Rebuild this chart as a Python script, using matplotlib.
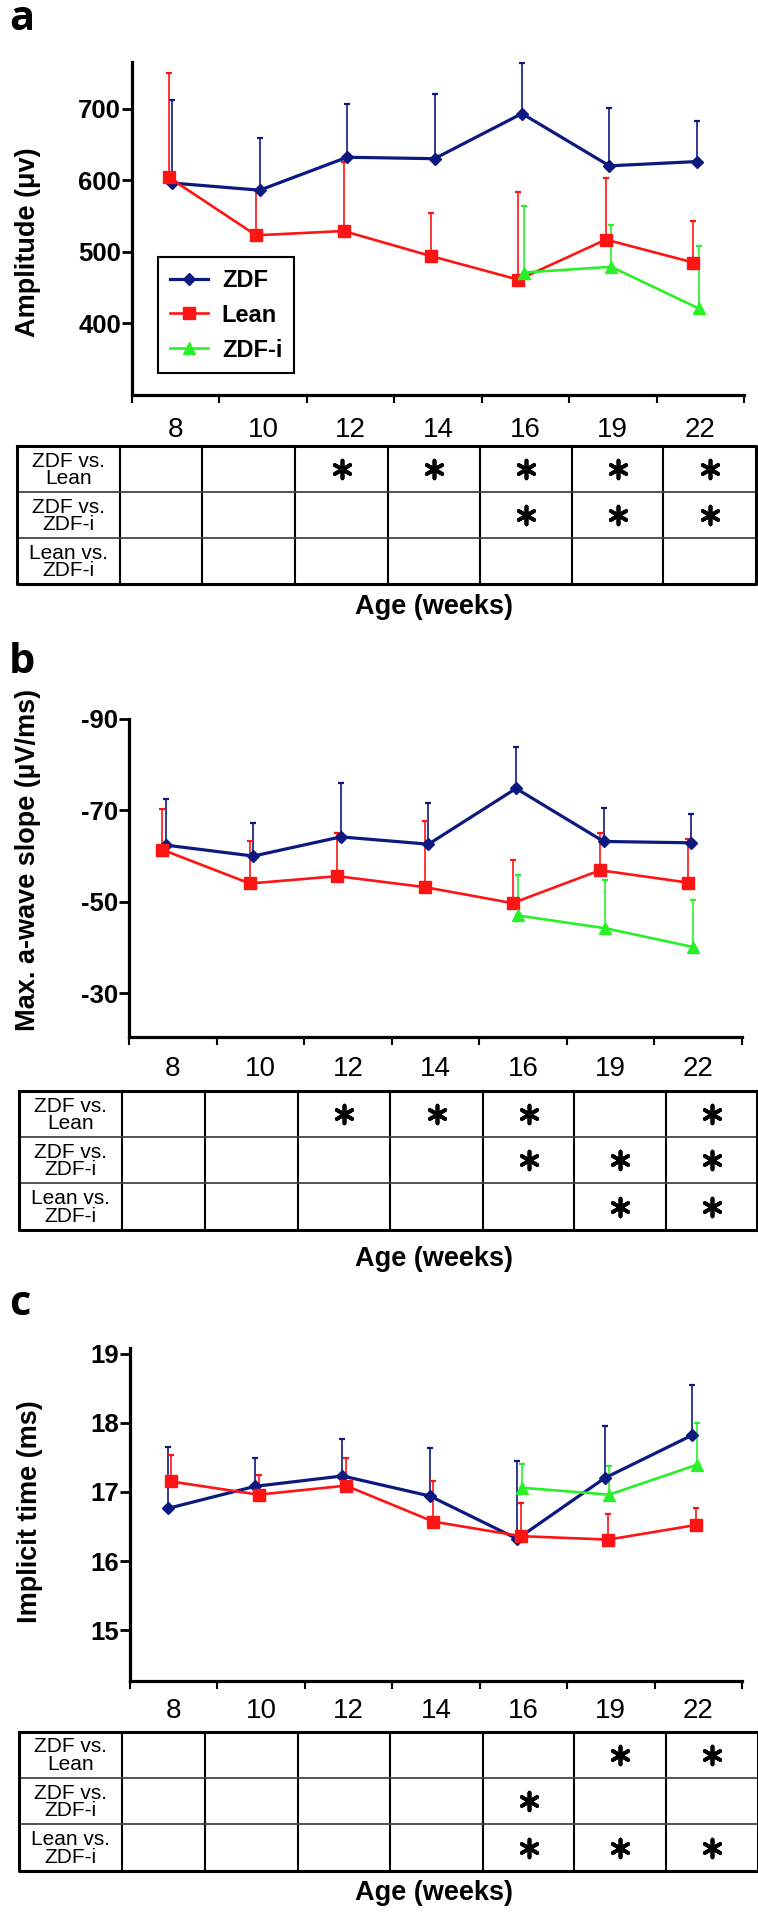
import matplotlib.pyplot as plt
import numpy as np

plt.rcParams['font.family'] = ['Liberation Sans', 'DejaVu Sans']
plt.rcParams['axes.unicode_minus'] = False

W, H = 758, 1917
nan = np.nan

weeks = ['8', '10', '12', '14', '16', '19', '22']
groups = ['ZDF', 'Lean', 'ZDF-i']
comparisons = ['ZDF vs.\nLean', 'ZDF vs.\nZDF-i', 'Lean vs.\nZDF-i']

# a - amplitude (uV): mean and SD
amp_zdf = [596, 586, 632, 630, 693, 620, 626]
amp_zdf_sd = [116, 73, 74, 90, 71, 81, 57]
amp_lean = [604, 523, 529, 494, 461, 517, 485]
amp_lean_sd = [146, 63, 96, 60, 122, 86, 58]
amp_zdfi = [nan, nan, nan, nan, 471, 479, 421]
amp_zdfi_sd = [nan, nan, nan, nan, 93, 59, 87]

# b - max a-wave slope (uV/ms)
slope_zdf = [-62.4, -60.0, -64.2, -62.6, -74.8, -63.2, -62.9]
slope_zdf_sd = [10.0, 7.2, 11.7, 9.0, 9.1, 7.3, 6.2]
slope_lean = [-61.4, -54.0, -55.6, -53.2, -49.7, -56.9, -54.2]
slope_lean_sd = [9.0, 9.2, 9.5, 14.5, 9.5, 8.2, 9.5]
slope_zdfi = [nan, nan, nan, nan, -47.0, -44.2, -40.1]
slope_zdfi_sd = [nan, nan, nan, nan, 8.9, 10.5, 10.3]

# c - implicit time (ms)
time_zdf = [16.76, 17.08, 17.23, 16.94, 16.32, 17.20, 17.82]
time_zdf_sd = [0.89, 0.41, 0.54, 0.69, 1.12, 0.75, 0.73]
time_lean = [17.15, 16.96, 17.09, 16.57, 16.36, 16.31, 16.52]
time_lean_sd = [0.38, 0.29, 0.40, 0.59, 0.48, 0.37, 0.25]
time_zdfi = [nan, nan, nan, nan, 17.06, 16.96, 17.39]
time_zdfi_sd = [nan, nan, nan, nan, 0.34, 0.42, 0.61]

# significance (rows = comparisons, cols = weeks)
sig_a = [[0, 0, 1, 1, 1, 1, 1],
         [0, 0, 0, 0, 1, 1, 1],
         [0, 0, 0, 0, 0, 0, 0]]
sig_b = [[0, 0, 1, 1, 1, 0, 1],
         [0, 0, 0, 0, 1, 1, 1],
         [0, 0, 0, 0, 0, 1, 1]]
sig_c = [[0, 0, 0, 0, 0, 1, 1],
         [0, 0, 0, 0, 1, 0, 0],
         [0, 0, 0, 0, 1, 1, 1]]

colors = {'ZDF': '#0c1a80', 'Lean': '#ff1414', 'ZDF-i': '#2af02a'}
markers = {'ZDF': ('D', 6.5), 'Lean': ('s', 9), 'ZDF-i': ('^', 9)}
lwidths = {'ZDF': 2.3, 'Lean': 1.9, 'ZDF-i': 1.9}

fig = plt.figure(figsize=(W / 100, H / 100), dpi=100)


def px_rect(l, t, r, b):
    return [l / W, 1 - b / H, (r - l) / W, (b - t) / H]


def draw_panel(box, series, ylim, yticks, ylabel, lab_xy, lab_size, offs, err_dir, tick_pad, legend=False):
    ax = fig.add_axes(px_rect(*box))
    x = np.arange(len(weeks))
    lines = []
    for name, (mean, sd) in zip(groups, series):
        mean = np.array(mean, dtype=float)
        sd = np.array(sd, dtype=float)
        xs = x + offs[name]
        zeros = np.zeros_like(sd)
        yerr = [zeros, sd] if err_dir > 0 else [sd, zeros]
        ax.errorbar(xs, mean, yerr=yerr, fmt='none', ecolor=colors[name],
                    elinewidth=1.2, capsize=2, capthick=1.6, zorder=2)
        m, ms = markers[name]
        ln, = ax.plot(xs, mean, color=colors[name], lw=lwidths[name], marker=m,
                      ms=ms, mec=colors[name], label=name, zorder=3)
        lines.append(ln)

    ax.set_xlim(-0.5, len(weeks) - 0.5)
    ax.set_ylim(*ylim)
    ax.set_yticks(yticks)
    ax.set_yticklabels([str(t) for t in yticks])
    ax.set_xticks(x)
    ax.set_xticklabels(weeks)
    ax.set_xticks(np.arange(len(weeks) + 1) - 0.5, minor=True)
    ax.tick_params(axis='x', which='major', length=0, pad=tick_pad, labelsize=20)
    ax.tick_params(axis='x', which='minor', length=6, width=1.5, direction='out')
    ax.tick_params(axis='y', length=7, width=2, pad=1, labelsize=18.5)
    for t in ax.get_yticklabels():
        t.set_fontweight('bold')
    for s in ['top', 'right']:
        ax.spines[s].set_visible(False)
    for s in ['left', 'bottom']:
        ax.spines[s].set_linewidth(2.3)
    ax.set_ylabel(ylabel, fontsize=lab_size, fontweight='bold')
    ax.yaxis.set_label_coords(*lab_xy)

    if legend:
        leg = ax.legend(handles=lines, loc='upper left', bbox_to_anchor=(0.0425, 0.414),
                        borderaxespad=0, fancybox=False, framealpha=1, edgecolor='black',
                        prop={'weight': 'bold', 'size': 17}, handlelength=1.6,
                        handletextpad=0.6, labelspacing=0.5, borderpad=0.5)
        leg.get_frame().set_linewidth(1.5)
    return ax


def draw_table(box, col_edges, row_edges, sig):
    l, t, r, b = box
    ax = fig.add_axes(px_rect(l, t, r, b))
    ax.set_xlim(l, r)
    ax.set_ylim(b, t)
    ax.axis('off')
    for xe in col_edges[1:-1]:
        ax.plot([xe, xe], [t, b], color='black', lw=1.5, clip_on=False)
    for ye in row_edges[1:-1]:
        ax.plot([l, r], [ye, ye], color='#444444', lw=1.3, clip_on=False)
    ax.plot([l, r, r, l, l], [t, t, b, b, t], color='black', lw=2.2, clip_on=False)
    for i, lab in enumerate(comparisons):
        cy = (row_edges[i] + row_edges[i + 1]) / 2
        cx = (col_edges[0] + col_edges[1]) / 2
        ax.text(cx, cy + 1, lab, ha='center', va='center', fontsize=15, linespacing=0.92)
        for j, v in enumerate(sig[i]):
            if v:
                cxj = (col_edges[j + 1] + col_edges[j + 2]) / 2
                ax.scatter([cxj], [cy], marker=(6, 2, 0), s=165, c='black',
                           linewidths=2.7, clip_on=False)
    return ax


# panel a
draw_panel((132, 62, 744, 395),
           [(amp_zdf, amp_zdf_sd), (amp_lean, amp_lean_sd), (amp_zdfi, amp_zdfi_sd)],
           (300, 765), [400, 500, 600, 700], 'Amplitude (\u03bcv)', (-0.149, 0.46), 19.5,
           {'ZDF': -0.04, 'Lean': -0.08, 'ZDF-i': -0.02}, 1, 16, legend=True)
draw_table((17, 446, 756, 584), [17, 119.5, 202, 295, 388, 480, 572, 663, 756],
           [446, 492, 538, 584], sig_a)

# panel b
draw_panel((129, 719, 742, 1037),
           [(slope_zdf, slope_zdf_sd), (slope_lean, slope_lean_sd), (slope_zdfi, slope_zdfi_sd)],
           (-20.4, -90), [-90, -70, -50, -30], 'Max. a-wave slope (\u00b5V/ms)', (-0.143, 0.557), 19.5,
           {'ZDF': -0.08, 'Lean': -0.12, 'ZDF-i': -0.06}, -1, 14)
draw_table((18.5, 1091, 757, 1230), [18.5, 122, 205, 298, 390, 483, 574, 666, 757],
           [1091, 1137, 1183, 1230], sig_b)

# panel c
draw_panel((130, 1348, 742, 1680.7),
           [(time_zdf, time_zdf_sd), (time_lean, time_lean_sd), (time_zdfi, time_zdfi_sd)],
           (14.27, 19.08), [15, 16, 17, 18, 19], 'Implicit time (ms)', (-0.142, 0.508), 19.5,
           {'ZDF': -0.07, 'Lean': -0.03, 'ZDF-i': -0.02}, 1, 12.5)
draw_table((18.5, 1731.7, 758, 1870.7), [18.5, 122, 205, 298, 390, 483, 574, 666, 758],
           [1731.7, 1777.7, 1824.3, 1870.7], sig_c)

# panel letters and x titles
for letter, base in zip(['a', 'b', 'c'], [30, 673, 1315]):
    fig.text(9 / W, 1 - base / H, letter, fontsize=30, fontweight='bold',
             family=['Open Sans', 'DejaVu Sans'], va='baseline', ha='left')
for yc in [607, 1259, 1893]:
    fig.text(434 / W, 1 - yc / H, 'Age (weeks)', fontsize=19.5, fontweight='bold',
             ha='center', va='center')

fig.savefig('out.png', dpi=100, facecolor='white')
